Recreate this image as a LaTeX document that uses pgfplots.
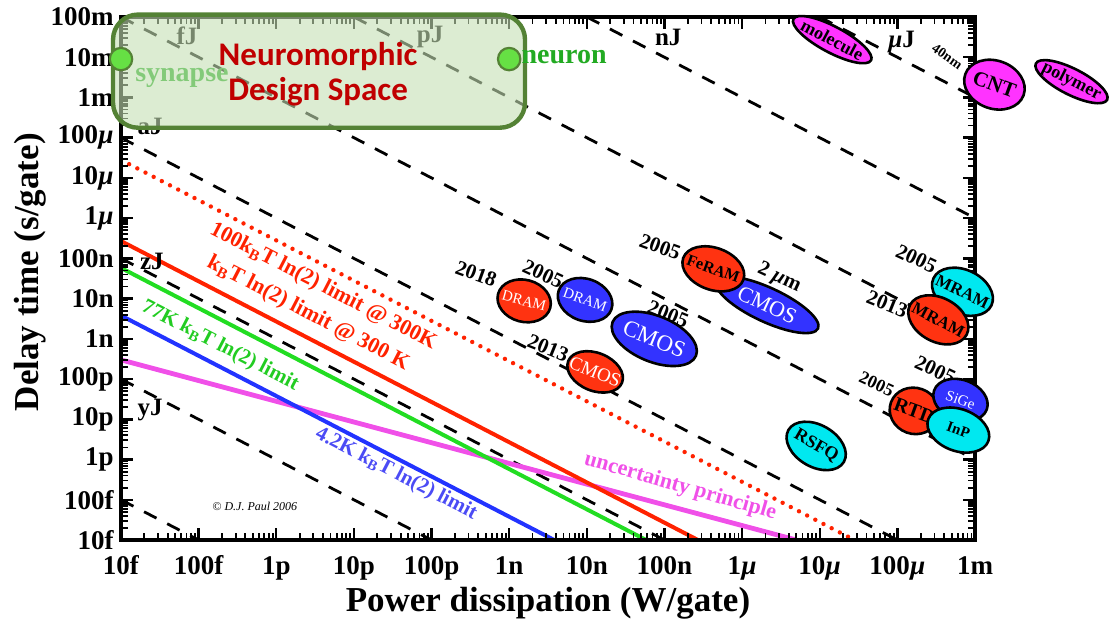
\documentclass[border=0pt]{standalone}
\usepackage{fontspec}
\setmainfont{Liberation Serif}
\newfontfamily\calibri{Carlito}
\usepackage{pgfplots}
\pgfplotsset{compat=1.18}

\definecolor{lred}{HTML}{FF2200}
\definecolor{lgreen}{HTML}{22DD22}
\definecolor{tgreen}{HTML}{22CC22}
\definecolor{lblue}{HTML}{2233FF}
\definecolor{tblue}{HTML}{4B4BF5}
\definecolor{lmag}{HTML}{F050E8}
\definecolor{ered}{HTML}{FF3311}
\definecolor{eblue}{HTML}{3333FF}
\definecolor{ecyan}{HTML}{00E8F0}
\definecolor{emag}{HTML}{FF33FF}
\definecolor{boxfill}{HTML}{C5E0B4}
\definecolor{boxedge}{HTML}{548235}
\definecolor{nmred}{HTML}{C00000}
\definecolor{dotgreen}{HTML}{66E044}
\definecolor{namegreen}{HTML}{22AA22}

\newcommand{\mic}{\textit{µ}}
\newcommand{\fs}[1]{\fontsize{#1}{#1}\selectfont}

% technology region: x, y, half-axes (pt), angle, fill, text colour, font, name
\newcommand{\blob}[9]{%
  \addplot[only marks, mark=*, mark size=1pt,
    mark options={fill=#6, draw=black, line width=1.3pt, rotate=#5, xscale=#3, yscale=#4},
    nodes near coords, point meta=explicit symbolic,
    every node near coord/.style={anchor=center, rotate=#5, text=#7, font=#8, inner sep=0pt}]
    coordinates {(#1,#2) [#9]};}

% inward tick marks on both sides of the frame: position, length, width
\newcommand{\xtk}[3]{\draw[black, line width=#3] (axis cs:#1,1e-14) -- ++(0pt,#2);
  \draw[black, line width=#3] (axis cs:#1,1e-1) -- ++(0pt,-#2);}
\newcommand{\ytk}[3]{\draw[black, line width=#3] (axis cs:1e-14,#1) -- ++(#2,0pt);
  \draw[black, line width=#3] (axis cs:1e-3,#1) -- ++(-#2,0pt);}

\begin{document}
\begin{tikzpicture}
\path[use as bounding box] (0,0) rectangle (556pt,311pt);

\begin{axis}[
  at={(60.5pt,41pt)}, anchor=south west, scale only axis,
  width=427pt, height=261.5pt,
  xmode=log, ymode=log, xmin=1e-14, xmax=1e-3, ymin=1e-14, ymax=1e-1,
  axis on top,
  axis line style={line width=1.7pt},
  major tick length=0pt, minor tick length=0pt,
  xtick={1e-14,1e-13,1e-12,1e-11,1e-10,1e-9,1e-8,1e-7,1e-6,1e-5,1e-4,1e-3},
  xticklabels={10f,100f,1p,10p,100p,1n,10n,100n,1\mic,10\mic,100\mic,1m},
  ytick={1e-14,1e-13,1e-12,1e-11,1e-10,1e-9,1e-8,1e-7,1e-6,1e-5,1e-4,1e-3,1e-2,1e-1},
  yticklabels={10f,100f,1p,10p,100p,1n,10n,100n,1\mic,10\mic,100\mic,1m,10m,100m},
  xticklabel style={font=\bfseries\fs{13.5}, anchor=base, yshift=-17pt, inner sep=0pt},
  yticklabel style={font=\bfseries\fs{13.5}, anchor=east, xshift=-3.5pt, inner sep=0pt},
  xlabel={Power dissipation (W/gate)},
  ylabel={Delay time (s/gate)},
  xlabel style={font=\bfseries\fs{17.5}, at={(axis description cs:0.5,0)}, anchor=center, yshift=-31.5pt},
  ylabel style={font=\bfseries\fs{17.5}, at={(axis description cs:0,0.512)}, anchor=center, yshift=45.5pt},
]
% constant-energy lines, one every factor of 1000
\addplot[black, line width=1.4pt, dash pattern=on 7pt off 6pt] coordinates {(1e-14,1e-13) (1e-3,1e-24)};
\addplot[black, line width=1.4pt, dash pattern=on 7pt off 6pt] coordinates {(1e-14,1e-10) (1e-3,1e-21)};
\addplot[black, line width=1.4pt, dash pattern=on 7pt off 6pt] coordinates {(1e-14,1e-7) (1e-3,1e-18)};
\addplot[black, line width=1.4pt, dash pattern=on 7pt off 6pt] coordinates {(1e-14,1e-4) (1e-3,1e-15)};
\addplot[black, line width=1.4pt, dash pattern=on 7pt off 6pt] coordinates {(1e-14,1e-1) (1e-3,1e-12)};
\addplot[black, line width=1.4pt, dash pattern=on 7pt off 6pt] coordinates {(1e-11,1e-1) (1e-3,1e-9)};
\addplot[black, line width=1.4pt, dash pattern=on 7pt off 6pt] coordinates {(1e-8,1e-1) (1e-3,1e-6)};
\addplot[black, line width=1.4pt, dash pattern=on 7pt off 6pt] coordinates {(1e-5,1e-1) (1e-3,1e-3)};
% physical limits
\addplot[lmag, line width=2.4pt] coordinates {(1e-14,3e-10) (5e-6,1e-14)};
\addplot[lblue, line width=2pt] coordinates {(1e-14,3.8e-9) (3.8e-9,1e-14)};
\addplot[lgreen, line width=2pt] coordinates {(1e-14,5.8e-8) (5.8e-8,1e-14)};
\addplot[lred, line width=2pt] coordinates {(1e-14,2.7e-7) (2.7e-7,1e-14)};
\addplot[lred, line width=2.2pt, line cap=round, dash pattern=on 0pt off 4.6pt] coordinates {(1e-14,2.8e-5) (2.8e-5,1e-14)};
% decade and sub-decade ticks
\pgfplotsinvokeforeach{-14,...,-4}{%
  \xtk{1e#1}{6pt}{1.2pt}\xtk{2e#1}{3.5pt}{0.9pt}\xtk{3e#1}{3.5pt}{0.9pt}\xtk{4e#1}{3.5pt}{0.9pt}
  \xtk{5e#1}{3.5pt}{0.9pt}\xtk{6e#1}{3.5pt}{0.9pt}\xtk{7e#1}{3.5pt}{0.9pt}\xtk{8e#1}{3.5pt}{0.9pt}\xtk{9e#1}{3.5pt}{0.9pt}}
\xtk{1e-3}{6pt}{1.2pt}
\pgfplotsinvokeforeach{-14,...,-2}{%
  \ytk{1e#1}{6pt}{1.2pt}\ytk{2e#1}{3.5pt}{0.9pt}\ytk{3e#1}{3.5pt}{0.9pt}\ytk{4e#1}{3.5pt}{0.9pt}
  \ytk{5e#1}{3.5pt}{0.9pt}\ytk{6e#1}{3.5pt}{0.9pt}\ytk{7e#1}{3.5pt}{0.9pt}\ytk{8e#1}{3.5pt}{0.9pt}\ytk{9e#1}{3.5pt}{0.9pt}}
\ytk{1e-1}{6pt}{1.2pt}
\end{axis}

\begin{axis}[
  at={(60.5pt,41pt)}, anchor=south west, scale only axis,
  width=427pt, height=261.5pt,
  xmode=log, ymode=log, xmin=1e-14, xmax=1e-3, ymin=1e-14, ymax=1e-1,
  hide axis, clip=false]
% line labels
\node[rotate=-27.4, text=lred, font=\bfseries\fs{11}] at (axis cs:4.0e-12,1.97e-8) {100k\textsubscript{B}T ln(2) limit @ 300K};
\node[rotate=-27.4, text=lred, font=\bfseries\fs{11}] at (axis cs:2.57e-12,4.2e-9) {k\textsubscript{B}T ln(2) limit @ 300 K};
\node[rotate=-27.4, text=tgreen, font=\bfseries\fs{10.5}] at (axis cs:1.89e-13,6.7e-10) {77K k\textsubscript{B}T ln(2) limit};
\node[rotate=-27.4, text=tblue, font=\bfseries\fs{10.5}] at (axis cs:3.5e-11,4.4e-13) {4.2K k\textsubscript{B}T ln(2) limit};
\node[rotate=-16, text=lmag, font=\bfseries\fs{11}] at (axis cs:1.6e-7,2.1e-13) {uncertainty principle};
\node[font=\itshape\fs{6}] at (axis cs:5.3e-13,7.0e-14) {© D.J. Paul 2006};
% energy labels
\node[font=\bfseries\fs{12.5}] at (axis cs:7.1e-14,3.44e-2) {fJ};
\node[font=\bfseries\fs{12.5}] at (axis cs:9.6e-11,3.25e-2) {pJ};
\node[font=\bfseries\fs{12.5}] at (axis cs:1.12e-7,3.1e-2) {nJ};
\node[font=\bfseries\fs{12.5}] at (axis cs:1.13e-4,2.4e-2) {\mic J};
\node[font=\bfseries\fs{12.5}] at (axis cs:2.37e-14,1.88e-4) {aJ};
\node[font=\bfseries\fs{12.5}] at (axis cs:2.5e-14,8.2e-8) {zJ};
\node[font=\bfseries\fs{12.5}] at (axis cs:2.37e-14,1.7e-11) {yJ};
\node[rotate=-35, font=\bfseries\fs{7}] at (axis cs:4.4e-4,1.04e-2) {40nm};
% year labels
\node[rotate=-20, font=\bfseries\fs{10.5}] at (axis cs:3.76e-10,4.14e-8) {2018};
\node[rotate=-25, font=\bfseries\fs{10.5}] at (axis cs:2.74e-9,4.14e-8) {2005};
\node[rotate=-22, font=\bfseries\fs{10.5}] at (axis cs:3.18e-9,5.97e-10) {2013};
\node[rotate=-22, font=\bfseries\fs{10.5}] at (axis cs:1.12e-7,4.19e-9) {2005};
\node[rotate=-20, font=\bfseries\fs{10.5}] at (axis cs:8.8e-8,1.95e-7) {2005};
\node[rotate=-25, font=\bfseries\fs{10.5}] at (axis cs:3.0e-6,3.29e-8) {2 \mic m};
\node[rotate=-25, font=\bfseries\fs{10.5}] at (axis cs:1.76e-4,9.8e-8) {2005};
\node[rotate=-22, font=\bfseries\fs{10.5}] at (axis cs:7.4e-5,7.4e-9) {2013};
\node[rotate=-25, font=\bfseries\fs{9}] at (axis cs:5.4e-5,7.6e-11) {2005};
\node[rotate=-25, font=\bfseries\fs{10.5}] at (axis cs:3.09e-4,1.69e-10) {2005};
% technologies
\blob{1.45e-5}{2.74e-2}{22}{6.5}{-28}{emag}{black}{\bfseries\fs{9}}{molecule}
\blob{1.78e-3}{2.08e-3}{15.5}{12}{-20}{emag}{black}{\bfseries\fs{10.5}}{CNT}
\blob{1.75e-2}{2.47e-3}{20}{6.5}{-27}{emag}{black}{\bfseries\fs{9}}{polymer}
\blob{1.56e-9}{8.8e-9}{13.5}{10.5}{-15}{ered}{white}{\fs{7.5}}{DRAM}
\blob{9.5e-9}{9.3e-9}{14}{10.5}{-20}{eblue}{white}{\fs{7.5}}{DRAM}
\blob{7.4e-8}{1e-9}{22.5}{11.5}{-22}{eblue}{white}{\fs{11.5}}{CMOS}
\blob{1.28e-8}{1.51e-10}{14.5}{9.5}{-22}{ered}{white}{\fs{9.5}}{CMOS}
\blob{2.11e-6}{7.0e-9}{28}{8.5}{-25}{eblue}{white}{\fs{11}}{CMOS}
\blob{4.26e-7}{5.5e-8}{16}{10.5}{-20}{ered}{black}{\bfseries\fs{8}}{FeRAM}
\blob{6.9e-4}{1.48e-8}{16}{11}{-25}{ecyan}{black}{\bfseries\fs{8.5}}{MRAM}
\blob{3.37e-4}{2.97e-9}{16}{11}{-28}{ered}{black}{\bfseries\fs{8.5}}{MRAM}
\blob{1.66e-4}{1.62e-11}{12.5}{11.5}{-20}{ered}{black}{\bfseries\fs{10}}{RTD}
\blob{6.5e-4}{3.04e-11}{14}{10}{-20}{eblue}{white}{\fs{7.5}}{SiGe}
\blob{6.1e-4}{5.4e-12}{16}{10.5}{-20}{ecyan}{black}{\bfseries\fs{7.5}}{InP}
\blob{9e-6}{2.18e-12}{16}{10.5}{-30}{ecyan}{black}{\bfseries\fs{9}}{RSFQ}
% neuromorphic design space
\node[text=namegreen, font=\bfseries\fs{14}] at (axis cs:6.1e-14,3.1e-3) {synapse};
\addplot[draw=boxedge, line width=2.2pt, fill=boxfill, fill opacity=0.6, rounded corners=12.5pt]
  coordinates {(7.9e-15,0.115) (1.6e-9,0.115) (1.6e-9,1.77e-4) (7.9e-15,1.77e-4)} -- cycle;
\addplot[only marks, mark=*, mark size=5.6pt, mark options={fill=dotgreen, draw=boxedge, line width=1.1pt}]
  coordinates {(1e-14,9e-3) (1e-9,9e-3)};
\node[text=namegreen, font=\bfseries\fs{14}] at (axis cs:5.1e-9,1.03e-2) {neuron};
\node[text=nmred, font=\calibri\bfseries\fs{16.5}, align=center, inner sep=0pt] at (axis cs:3.46e-12,3.7e-3) {Neuromorphic\\[1pt]Design Space};
\end{axis}
\end{tikzpicture}
\end{document}
